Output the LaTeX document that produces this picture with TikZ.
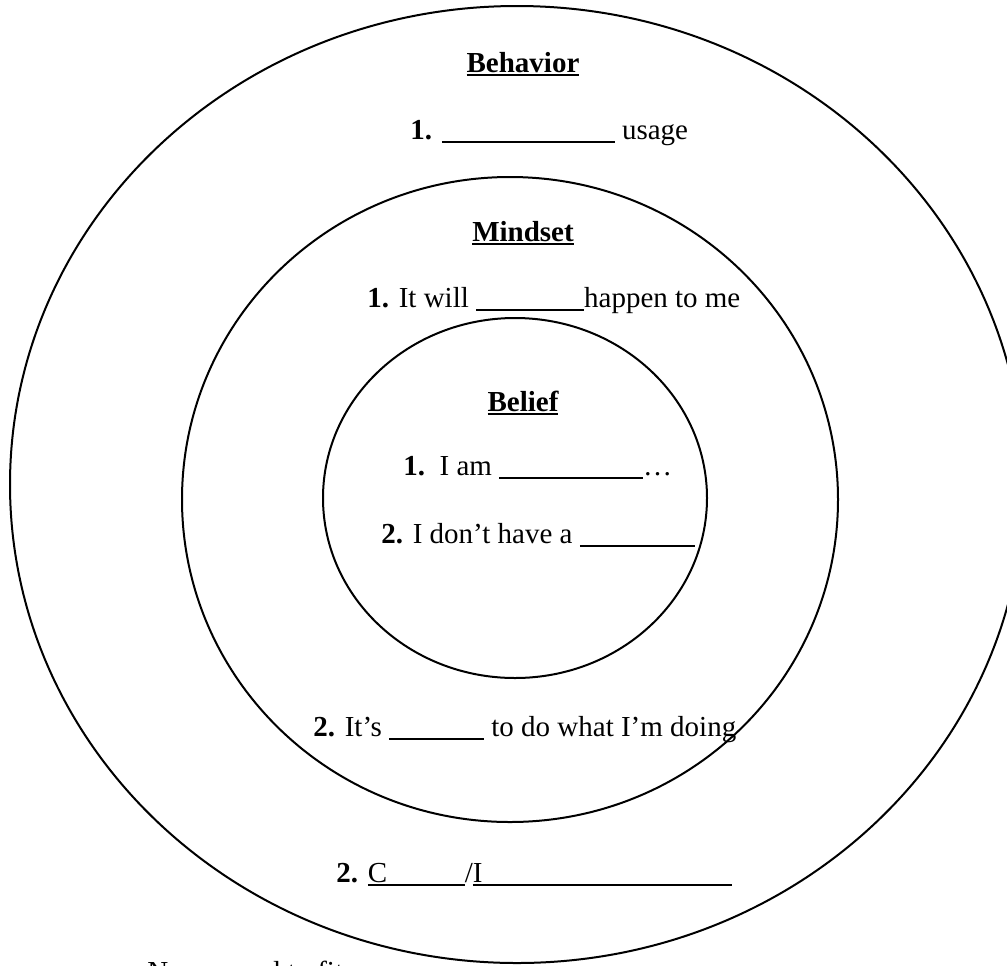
\documentclass[tikz,border=0pt]{standalone}
\usepackage{fontspec}
\setmainfont{Liberation Serif}
\usetikzlibrary{shapes.geometric}
% blanks to fill in
\newcommand\blank[1]{\rule[-2pt]{#1}{0.9pt}}
\newcommand\ublank[2]{\rlap{\blank{#2}}\makebox[#2][l]{#1}}
\newcommand\heading[1]{\setbox0\hbox{\bfseries #1}\rlap{\rule[-2pt]{\wd0}{1pt}}\box0}

\begin{document}
\begin{tikzpicture}[
    x=0.5pt,y=-0.5pt,
    font=\fontsize{14.5}{17}\selectfont,
    ring/.style={draw,ellipse,line width=1pt,inner sep=0pt},
    title/.style={anchor=base,inner sep=0pt},
    line/.style={anchor=base west,inner sep=0pt}
  ]
    \useasboundingbox (0,0) rectangle (1007,965);
    \clip (0,0) rectangle (1007,965);

    \node[ring,minimum width=507pt,minimum height=478.5pt] (behavior) at (517,484.5) {};
    \node[ring,minimum width=328pt,minimum height=322.5pt] (mindset)  at (510,499.5) {};
    \node[ring,minimum width=192pt,minimum height=180pt]   (belief)   at (515,498)   {};

    \node[title] (behTitle)  at (523,72)  {\heading{Behavior}};
    \node[line]  (beh1)      at (410,139) {\textbf{1.} \blank{86.5pt} usage};
    \node[title] (mindTitle) at (523,241) {\heading{Mindset}};
    \node[line]  (mind1)     at (367,307) {\textbf{1.} It will \blank{54pt}happen to me};
    \node[title] (belTitle)  at (523,411) {\heading{Belief}};
    \node[line]  (bel1)      at (403,475) {\textbf{1.}\ \ I am \blank{72pt}…};
    \node[line]  (bel2)      at (381,543) {\textbf{2.} I don’t have a \blank{57.5pt}};
    \node[line]  (mind2)     at (313,736) {\textbf{2.} It’s \blank{47.5pt} to do what I’m doing};
    \node[line]  (beh2)      at (336,882) {\textbf{2.} \ublank{C}{48.5pt}/\ublank{I}{129.5pt}};

    \node[line]  (note)      at (147,981) {Never need to fit};
  \end{tikzpicture}
\end{document}
